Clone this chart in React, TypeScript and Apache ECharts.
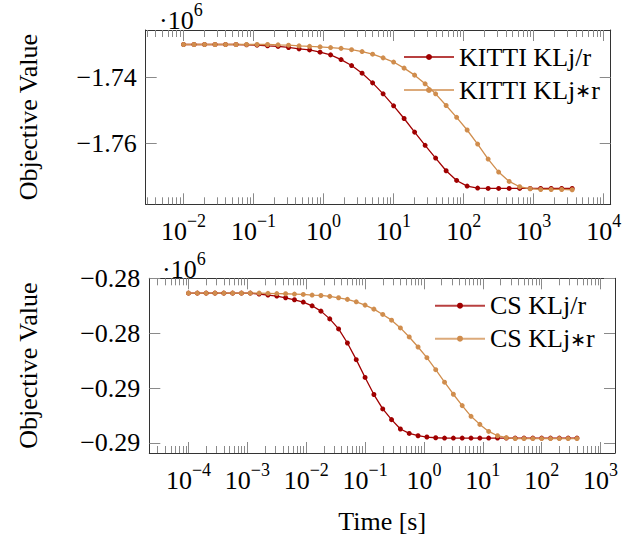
import React, { useEffect, useRef } from "react";
import * as echarts from "echarts";

// ---------- data ----------
const kittiTime = [
  0.01, 0.014125, 0.019953, 0.028184, 0.039811, 0.056234, 0.079433, 0.1122, 0.15849, 0.22387,
  0.31623, 0.44668, 0.63096, 0.89125, 1.2589, 1.7783, 2.5119, 3.5481, 5.0119, 7.0795,
  10, 14.125, 19.953, 28.184, 39.811, 56.234, 79.433, 112.2, 158.49, 223.87,
  316.23, 446.68, 630.96, 891.25, 1258.9, 1778.3, 2511.9, 3548.1,
];
const kittiKLjr = [
  -1.7301, -1.7301, -1.7301, -1.7301, -1.7301, -1.7301, -1.7302, -1.7303, -1.7305, -1.73067,
  -1.731, -1.73142, -1.73173, -1.73243, -1.73324, -1.73467, -1.73648, -1.73879, -1.74173, -1.74506,
  -1.7487, -1.75254, -1.75667, -1.76067, -1.76454, -1.76839, -1.77133, -1.77303, -1.77363, -1.77375,
  -1.77375, -1.77375, -1.77375, -1.77375, -1.77375, -1.77375, -1.77375, -1.77375,
];
const kittiKLjsr = [
  -1.7301, -1.7301, -1.7301, -1.7301, -1.7301, -1.7301, -1.7301, -1.7301, -1.7301, -1.73021,
  -1.7303, -1.73052, -1.73067, -1.73082, -1.73103, -1.73127, -1.73167, -1.73224, -1.73303, -1.73415,
  -1.73542, -1.73727, -1.73939, -1.74203, -1.74506, -1.7486, -1.75218, -1.75603, -1.7603, -1.76485,
  -1.76879, -1.77163, -1.77324, -1.77385, -1.77406, -1.77406, -1.77406, -1.77415,
];

const csTime = [
  0.0001, 0.00014125, 0.00019953, 0.00028184, 0.00039811, 0.00056234, 0.00079433, 0.001122, 0.0015849, 0.0022387,
  0.0031623, 0.0044668, 0.0063096, 0.0089125, 0.012589, 0.017783, 0.025119, 0.035481, 0.050119, 0.070795,
  0.1, 0.14125, 0.19953, 0.28184, 0.39811, 0.56234, 0.79433, 1.122, 1.5849, 2.2387,
  3.1623, 4.4668, 6.3096, 8.9125, 12.589, 17.783, 25.119, 35.481, 50.119, 70.795,
  100, 141.25, 199.53, 281.84, 398.11,
];
const csKLjr = [
  -0.282532, -0.282532, -0.282532, -0.282532, -0.282532, -0.282532, -0.282532, -0.282532, -0.282565, -0.282602,
  -0.282639, -0.282701, -0.282774, -0.282859, -0.282994, -0.283189, -0.283472, -0.283839, -0.284352, -0.284961,
  -0.285611, -0.286235, -0.28676, -0.287152, -0.287493, -0.287655, -0.287739, -0.287787, -0.287813, -0.287824,
  -0.287824, -0.287824, -0.287824, -0.287824, -0.287824, -0.287824, -0.287824, -0.287824, -0.287824, -0.287824,
  -0.287824, -0.287824, -0.287824, -0.287824, -0.287824,
];
const csKLjsr = [
  -0.282532, -0.282532, -0.282532, -0.282532, -0.282532, -0.282532, -0.282532, -0.282532, -0.282532, -0.282539,
  -0.282547, -0.282554, -0.282565, -0.28258, -0.282602, -0.282617, -0.28265, -0.282701, -0.28276, -0.282848,
  -0.282969, -0.283116, -0.28331, -0.283519, -0.283802, -0.284132, -0.284499, -0.284888, -0.285328, -0.285783,
  -0.286224, -0.286639, -0.287031, -0.287325, -0.287582, -0.287739, -0.287813, -0.287842, -0.287842, -0.287842,
  -0.287842, -0.287842, -0.287842, -0.287842, -0.287842,
];

const kittiXTicks = [0.01, 0.1, 1, 10, 100, 1000, 10000];
const csXTicks = [0.0001, 0.001, 0.01, 0.1, 1, 10, 100, 1000];
const kittiYTicks = [-1.74, -1.76];
const csYTicks = [-0.282, -0.284, -0.286, -0.288];

const kittiXRange = [0.002884, 12589];
const csXRange = [0.00002158, 1762];
const kittiYRange = [-1.77856, -1.7257];
const csYRange = [-0.28837, -0.28199];

const kittiNames = ["KITTI KLj/r", "KITTI KLj\u2217r"];
const csNames = ["CS KLj/r", "CS KLj\u2217r"];

// ---------- style ----------
const FONT = "Liberation Serif";
const RED = "#a00000";
const ORANGE = "#d08d4d";
const FRAME = "#333333";
const TICK = "#8a8a8a";

function minorTicks(lo: number, hi: number): number[] {
  const out: number[] = [];
  const e0 = Math.floor(Math.log10(lo));
  const e1 = Math.ceil(Math.log10(hi));
  for (let e = e0; e <= e1; e++) {
    for (let m = 2; m <= 9; m++) {
      const v = parseFloat((m * Math.pow(10, e)).toPrecision(6));
      if (v >= lo && v <= hi) out.push(v);
    }
  }
  return out;
}

const powRich = {
  b: { fontSize: 26, lineHeight: 32, verticalAlign: "bottom", fontFamily: FONT, color: "#000" },
  s: { fontSize: 18, lineHeight: 18, verticalAlign: "top", fontFamily: FONT, color: "#000" },
};

function fmtPow(v: number): string {
  const e = Math.round(Math.log10(v));
  return `{b|10}{s|${e < 0 ? "\u2212" + -e : e}}`;
}

function xAxes(grid: number, range: number[], majors: number[], name?: string) {
  const minors = minorTicks(range[0], range[1]);
  const base = {
    type: "log",
    logBase: 10,
    gridIndex: grid,
    min: range[0],
    max: range[1],
    splitLine: { show: false },
    minorTick: { show: false },
    minorSplitLine: { show: false },
  };
  const line = { show: true, onZero: false, lineStyle: { color: FRAME, width: 1 } };
  const noLine = { show: false, onZero: false };
  return [
    {
      ...base,
      position: "bottom",
      axisLine: line,
      axisTick: { show: true, inside: true, length: 11, customValues: majors, lineStyle: { color: TICK, width: 1 } },
      axisLabel: {
        show: true,
        customValues: majors,
        formatter: fmtPow,
        rich: powRich,
        margin: 8,
        hideOverlap: false,
        fontFamily: FONT,
        fontSize: 26,
      },
      name: name,
      nameLocation: "middle",
      nameGap: 55,
      nameTextStyle: { fontSize: 26, fontFamily: FONT, color: "#000" },
    },
    {
      ...base,
      position: "bottom",
      axisLine: noLine,
      axisTick: { show: true, inside: true, length: 7, customValues: minors, lineStyle: { color: TICK, width: 1 } },
      axisLabel: { show: false },
    },
    {
      ...base,
      position: "top",
      axisLine: line,
      axisTick: { show: true, inside: true, length: 11, customValues: majors, lineStyle: { color: TICK, width: 1 } },
      axisLabel: { show: false },
    },
    {
      ...base,
      position: "top",
      axisLine: noLine,
      axisTick: { show: true, inside: true, length: 7, customValues: minors, lineStyle: { color: TICK, width: 1 } },
      axisLabel: { show: false },
    },
  ];
}

function yAxes(grid: number, range: number[], ticks: number[], gap: number) {
  const base = {
    type: "value",
    gridIndex: grid,
    min: range[0],
    max: range[1],
    splitLine: { show: false },
  };
  const line = { show: true, onZero: false, lineStyle: { color: FRAME, width: 1 } };
  return [
    {
      ...base,
      position: "left",
      axisLine: line,
      axisTick: { show: true, inside: true, length: 11, customValues: ticks, lineStyle: { color: TICK, width: 1 } },
      axisLabel: {
        show: true,
        customValues: ticks,
        formatter: (v: number) => v.toFixed(2).replace("-", "\u2212"),
        margin: 9,
        fontSize: 26,
        fontFamily: FONT,
        color: "#000",
      },
      name: "Objective Value",
      nameLocation: "middle",
      nameRotate: 90,
      nameGap: gap,
      nameTextStyle: { fontSize: 26, fontFamily: FONT, color: "#000" },
    },
    {
      ...base,
      position: "right",
      axisLine: line,
      axisTick: { show: true, inside: true, length: 11, customValues: ticks, lineStyle: { color: TICK, width: 1 } },
      axisLabel: { show: false },
    },
  ];
}

function lineSeries(name: string, xs: number[], ys: number[], color: string, xIdx: number, yIdx: number) {
  return {
    type: "line",
    name,
    xAxisIndex: xIdx,
    yAxisIndex: yIdx,
    data: xs.map((t, i) => [t, ys[i]]),
    symbol: "circle",
    symbolSize: 5,
    showAllSymbol: true,
    lineStyle: { color, width: 1.3 },
    itemStyle: { color },
    emphasis: { disabled: true },
    silent: true,
  };
}

function legendFormatter(name: string): string {
  const i = name.indexOf("\u2217");
  if (i < 0) return name;
  return `${name.slice(0, i)}{m|\u2217}${name.slice(i + 1)}`;
}

function legendFor(names: string[], left: number, top: number) {
  return {
    data: names,
    orient: "vertical",
    left,
    top,
    padding: 0,
    itemWidth: 50,
    itemHeight: 7.5,
    itemGap: 7,
    selectedMode: false,
    formatter: legendFormatter,
    lineStyle: { width: 2, opacity: 0.75 },
    textStyle: {
      fontSize: 26,
      lineHeight: 26,
      fontFamily: FONT,
      color: "#000",
      rich: {
        m: { fontSize: 19, lineHeight: 26, fontFamily: "DejaVu Sans", color: "#000" },
      },
    },
  };
}

export default function App() {
  const ref = useRef<HTMLDivElement>(null);
  useEffect(() => {
    if (!ref.current) return;
    const chart = echarts.init(ref.current, undefined, { renderer: "svg" });
    const supRich = {
      b: { fontSize: 26, lineHeight: 32, verticalAlign: "bottom", fontFamily: FONT, fill: "#000" },
      s: { fontSize: 18, lineHeight: 18, verticalAlign: "top", fontFamily: FONT, fill: "#000" },
    };
    chart.setOption({
      animation: false,
      backgroundColor: "#ffffff",
      grid: [
        { left: 145.7, top: 30, width: 465, height: 174.3, outerBoundsMode: "none", containLabel: false },
        { left: 149.3, top: 278.3, width: 465.7, height: 174.7, outerBoundsMode: "none", containLabel: false },
      ],
      xAxis: [...xAxes(0, kittiXRange, kittiXTicks), ...xAxes(1, csXRange, csXTicks, "Time [s]")],
      yAxis: [...yAxes(0, kittiYRange, kittiYTicks, 104), ...yAxes(1, csYRange, csYTicks, 108)],
      legend: [legendFor(kittiNames, 403, 44), legendFor(csNames, 434, 292.7)],
      series: [
        lineSeries(kittiNames[0], kittiTime, kittiKLjr, RED, 0, 0),
        lineSeries(kittiNames[1], kittiTime, kittiKLjsr, ORANGE, 0, 0),
        lineSeries(csNames[0], csTime, csKLjr, RED, 4, 2),
        lineSeries(csNames[1], csTime, csKLjsr, ORANGE, 4, 2),
      ],
      graphic: [
        { type: "text", left: 159, top: 1, style: { text: "{b|\u00b710}{s|6}", rich: supRich, fontFamily: FONT } },
        { type: "text", left: 162, top: 250, style: { text: "{b|\u00b710}{s|6}", rich: supRich, fontFamily: FONT } },
      ],
    });
    return () => chart.dispose();
  }, []);
  return (
    <div
      ref={ref}
      style={{ position: "fixed", left: 0, top: 0, width: 631, height: 535, background: "#fff" }}
    />
  );
}
